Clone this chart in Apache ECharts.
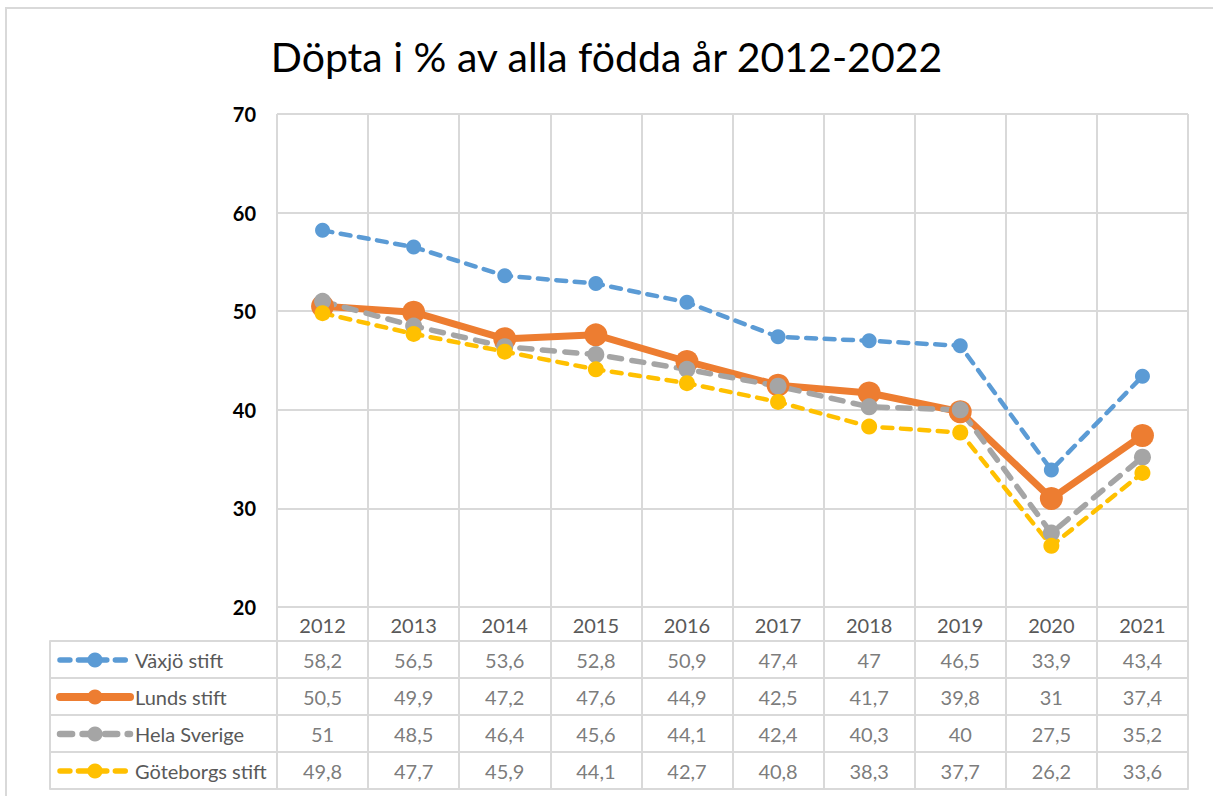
<!DOCTYPE html>
<html>
<head>
    <meta charset="utf-8">
    <title>Döpta i % av alla födda</title>
    <script src="https://cdn.jsdelivr.net/npm/echarts@6/dist/echarts.min.js"></script>
    <style>
        html, body { margin: 0; padding: 0; background: #fff; }
        #grafico { width: 1213px; height: 796px; }
    </style>
</head>
<body>
    <div id="grafico"></div>

    <script>
        // Data
        const ar = ['2012', '2013', '2014', '2015', '2016', '2017', '2018', '2019', '2020', '2021'];
        const namn = ['Växjö stift', 'Lunds stift', 'Hela Sverige', 'Göteborgs stift'];
        const vaxjo = [58.2, 56.5, 53.6, 52.8, 50.9, 47.4, 47, 46.5, 33.9, 43.4];
        const lund = [50.5, 49.9, 47.2, 47.6, 44.9, 42.5, 41.7, 39.8, 31, 37.4];
        const sverige = [51, 48.5, 46.4, 45.6, 44.1, 42.4, 40.3, 40, 27.5, 35.2];
        const goteborg = [49.8, 47.7, 45.9, 44.1, 42.7, 40.8, 38.3, 37.7, 26.2, 33.6];
        const yTicks = [20, 30, 40, 50, 60, 70];

        const FONT = 'Lato';
        const GRID_COLOR = '#d9d9d9';
        const TEXT_COLOR = '#595959';

        const serier = [vaxjo, lund, sverige, goteborg];
        const farger = ['#5b9bd5', '#ed7d31', '#a5a5a5', '#ffc000'];
        const bredd = [4.5, 7, 5.5, 4.5];

        // tabellens celler: [kolumn, rad, värde]
        const tabell = [];
        serier.forEach(function (s, rad) {
            s.forEach(function (v, kol) { tabell.push([kol, rad, v]); });
        });

        const grafico = echarts.init(document.getElementById('grafico'), null, { renderer: 'svg' });

        function linje(nr, data, dashed, size) {
            const w = bredd[nr];
            return {
                name: namn[nr],
                type: 'line',
                data: data,
                xAxisIndex: 0,
                yAxisIndex: 0,
                symbol: 'circle',
                symbolSize: size,
                color: farger[nr],
                itemStyle: { color: farger[nr] },
                lineStyle: {
                    color: farger[nr],
                    width: w,
                    type: dashed ? [w * 2.2, w * 1.9] : 'solid',
                    cap: 'round'
                },
                emphasis: { disabled: true },
                animation: false
            };
        }

        const opciones = {
            animation: false,
            title: {
                text: 'Döpta i % av alla födda år 2012-2022',
                left: 'center',
                top: 31,
                textStyle: { fontFamily: FONT, fontSize: 41, fontWeight: 'normal', color: '#000' }
            },
            graphic: [{
                type: 'rect',
                shape: { x: 6, y: 8, width: 1400, height: 1000 },
                style: { fill: 'none', stroke: GRID_COLOR, lineWidth: 2 },
                silent: true
            }],
            legend: {
                data: namn.map(function (n, i) {
                    return { name: n, lineStyle: { width: bredd[i] + 1 } };
                }),
                orient: 'vertical',
                left: 56,
                top: 650,
                height: 300,
                padding: 0,
                itemWidth: 70,
                itemHeight: 19,
                itemGap: 17,
                textStyle: { fontFamily: FONT, fontSize: 20, lineHeight: 20, color: TEXT_COLOR },
                selectedMode: false
            },
            grid: [
                { left: 277, right: 25, top: 114, bottom: 189 },
                { left: 277, right: 25, top: 641, bottom: 7 },
                { left: 50, width: 227, top: 641, bottom: 7 }
            ],
            xAxis: [
                {
                    type: 'category',
                    gridIndex: 0,
                    data: ar,
                    boundaryGap: true,
                    axisLine: { show: true, lineStyle: { color: GRID_COLOR, width: 2 } },
                    axisTick: { show: true, length: 34, lineStyle: { color: GRID_COLOR, width: 2 } },
                    splitLine: { show: true, lineStyle: { color: GRID_COLOR, width: 2 } },
                    axisLabel: { fontFamily: FONT, fontSize: 20, color: TEXT_COLOR, margin: 8 }
                },
                {
                    type: 'category',
                    gridIndex: 1,
                    data: ar,
                    axisLine: { show: true, lineStyle: { color: GRID_COLOR, width: 2 } },
                    axisTick: { show: false },
                    axisLabel: { show: false },
                    splitLine: { show: true, lineStyle: { color: GRID_COLOR, width: 2 } }
                },
                {
                    type: 'value',
                    gridIndex: 2,
                    min: 0,
                    max: 1,
                    show: false
                }
            ],
            yAxis: [
                {
                    type: 'value',
                    gridIndex: 0,
                    min: yTicks[0],
                    max: yTicks[yTicks.length - 1],
                    interval: 10,
                    axisLine: { show: false },
                    axisTick: { show: false },
                    splitLine: { show: true, lineStyle: { color: GRID_COLOR, width: 2 } },
                    axisLabel: { fontFamily: FONT, fontSize: 20, fontWeight: 'bold', color: '#000', margin: 21 }
                },
                {
                    type: 'category',
                    gridIndex: 1,
                    data: namn,
                    inverse: true,
                    axisLine: { show: true, lineStyle: { color: GRID_COLOR, width: 2 } },
                    axisTick: { show: false },
                    axisLabel: { show: false },
                    splitLine: { show: true, lineStyle: { color: GRID_COLOR, width: 2 } }
                },
                {
                    type: 'category',
                    gridIndex: 2,
                    data: namn,
                    inverse: true,
                    axisLine: { show: true, lineStyle: { color: GRID_COLOR, width: 2 } },
                    axisTick: { show: false },
                    axisLabel: { show: false },
                    splitLine: { show: true, lineStyle: { color: GRID_COLOR, width: 2 } }
                }
            ],
            series: [
                linje(0, vaxjo, true, 15),
                linje(1, lund, false, 23),
                linje(2, sverige, true, 17),
                linje(3, goteborg, true, 16),
                {
                    name: 'tabell',
                    type: 'scatter',
                    xAxisIndex: 1,
                    yAxisIndex: 1,
                    data: tabell,
                    symbolSize: 1,
                    itemStyle: { color: 'rgba(0,0,0,0)' },
                    label: {
                        show: true,
                        position: 'inside',
                        fontFamily: FONT,
                        fontSize: 20,
                        color: TEXT_COLOR,
                        formatter: function (p) { return String(p.value[2]).replace('.', ','); }
                    },
                    emphasis: { disabled: true },
                    silent: true
                }
            ]
        };

        grafico.setOption(opciones);
    </script>
</body>
</html>
